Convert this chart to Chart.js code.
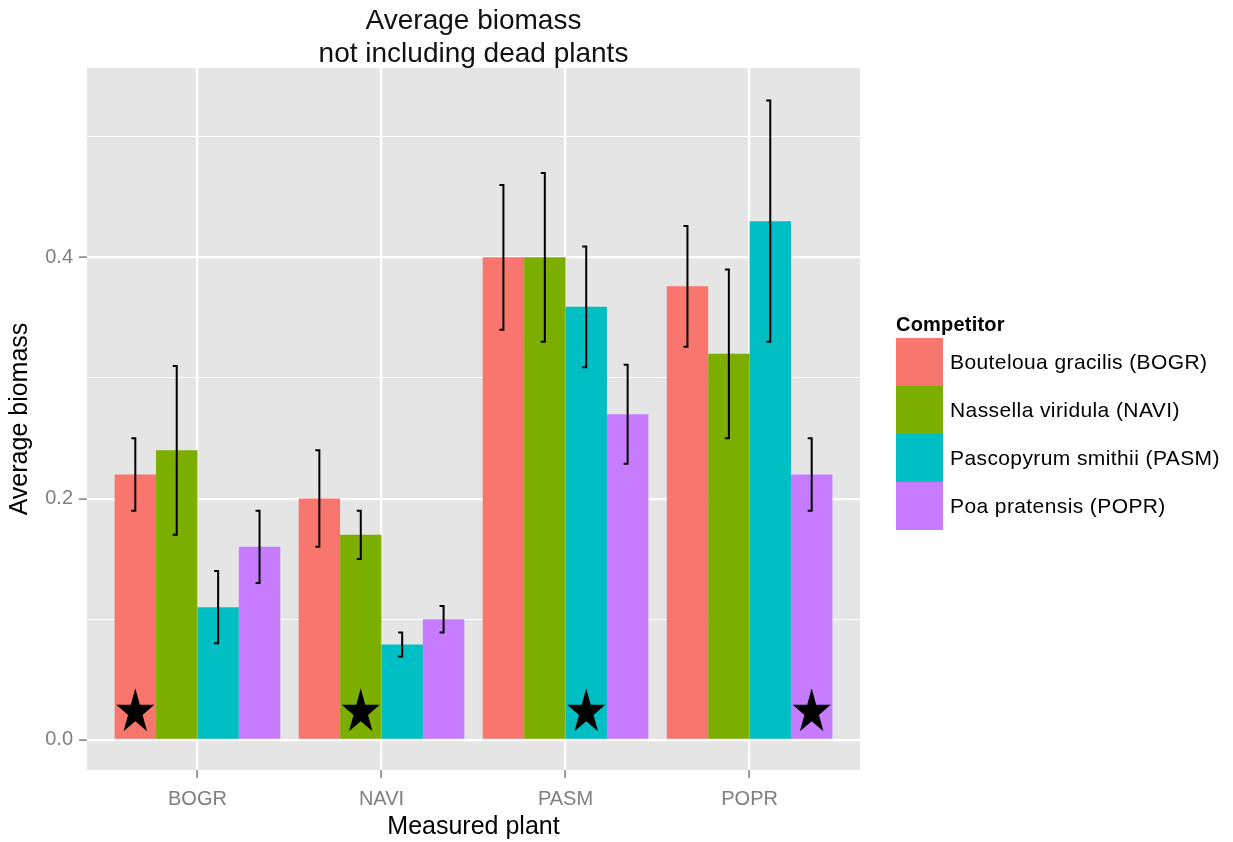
<!DOCTYPE html>
<html>
<head>
<meta charset="utf-8">
<title>Average biomass</title>
<script src="https://cdn.jsdelivr.net/npm/chart.js@4.4.1/dist/chart.umd.min.js"></script>
<style>
  html, body { margin: 0; padding: 0; background: #ffffff; }
  #wrap { position: relative; width: 1233px; height: 842px; }
  #chart { position: absolute; left: 0; top: 0; }
  #legend {
    position: absolute; left: 896px; top: 312px;
    font-family: "Liberation Sans", Arial, sans-serif; color: #000;
  }
  #legend .ttl { font-size: 20px; font-weight: bold; line-height: 24px; height: 26px; letter-spacing: 0.2px; }
  #legend .row { display: flex; align-items: center; height: 48px; }
  #legend .key { width: 47px; height: 48px; flex: none; }
  #legend .lab { font-size: 21px; line-height: 24px; margin-left: 7px; white-space: nowrap; letter-spacing: 0.4px; }
</style>
</head>
<body>
<div id="wrap">
  <canvas id="chart" width="1233" height="842"></canvas>
  <div id="legend"></div>
</div>
<script>
// Measured plants (x axis) and competitor species (series)
const measuredPlants = ['BOGR', 'NAVI', 'PASM', 'POPR'];
const competitors = [
  'Bouteloua gracilis (BOGR)',
  'Nassella viridula (NAVI)',
  'Pascopyrum smithii (PASM)',
  'Poa pratensis (POPR)'
];
const competitorColors = ['#F8766D', '#7CAE00', '#00BFC4', '#C77CFF'];

// Mean biomass per measured plant, one array per competitor
const meanBOGR = [0.22, 0.20, 0.40, 0.376];
const meanNAVI = [0.24, 0.17, 0.40, 0.32];
const meanPASM = [0.11, 0.079, 0.359, 0.43];
const meanPOPR = [0.16, 0.10, 0.27, 0.22];

// Standard errors (half length of each error bar)
const seBOGR = [0.03, 0.04, 0.06, 0.05];
const seNAVI = [0.07, 0.02, 0.07, 0.07];
const sePASM = [0.03, 0.01, 0.05, 0.10];
const sePOPR = [0.03, 0.011, 0.041, 0.03];

// Star marks the bar where the competitor is the measured plant itself
const starCompetitor = [0, 1, 2, 3];
const starLevel = 0.023;

const yTickValues = [0, 0.1, 0.2, 0.3, 0.4, 0.5];
const yTickLabels = ['0.0', '', '0.2', '', '0.4', ''];

const titleLines = ['Average biomass', 'not including dead plants'];

const FONT = '"Liberation Sans", Arial, sans-serif';
const means = [meanBOGR, meanNAVI, meanPASM, meanPOPR];
const errors = [seBOGR, seNAVI, sePASM, sePOPR];

const datasets = competitors.map((name, s) => ({
  label: name,
  data: means[s].map((v, i) => ({ x: i + 1, y: v })),
  errors: errors[s],
  backgroundColor: competitorColors[s],
  borderWidth: 0,
  categoryPercentage: 0.9,
  barPercentage: 1.0
}));

// grey panel behind the grid
const panelBackground = {
  id: 'panelBackground',
  beforeDraw(chart) {
    const { ctx, chartArea: a } = chart;
    ctx.save();
    ctx.fillStyle = '#E5E5E5';
    ctx.fillRect(a.left, a.top, a.right - a.left, a.bottom - a.top);
    ctx.restore();
  }
};

// error bars and stars on top of the bars
const barDecorations = {
  id: 'barDecorations',
  afterDatasetsDraw(chart) {
    const ctx = chart.ctx;
    const yScale = chart.scales.y;
    ctx.save();
    ctx.strokeStyle = '#000';
    ctx.lineWidth = 2;
    chart.data.datasets.forEach((ds, di) => {
      const meta = chart.getDatasetMeta(di);
      meta.data.forEach((bar, i) => {
        const m = ds.data[i].y, e = ds.errors[i];
        const x = bar.x;
        const yt = yScale.getPixelForValue(m + e);
        const yb = yScale.getPixelForValue(m - e);
        ctx.beginPath();
        ctx.moveTo(x, yt); ctx.lineTo(x, yb);
        ctx.moveTo(x - 4, yt); ctx.lineTo(x + 1, yt);
        ctx.moveTo(x - 4, yb); ctx.lineTo(x + 1, yb);
        ctx.stroke();
      });
    });
    // filled five-pointed stars, a little taller than wide
    ctx.fillStyle = '#000';
    starCompetitor.forEach((s, i) => {
      const bar = chart.getDatasetMeta(s).data[i];
      const cx = bar.x, cy = yScale.getPixelForValue(starLevel);
      const R = 20, r = R * 0.382, sy = 1.19;
      ctx.beginPath();
      for (let k = 0; k < 10; k++) {
        const rad = k % 2 === 0 ? R : r;
        const ang = -Math.PI / 2 + k * Math.PI / 5;
        const px = cx + rad * Math.cos(ang), py = cy + rad * Math.sin(ang) * sy;
        if (k === 0) ctx.moveTo(px, py); else ctx.lineTo(px, py);
      }
      ctx.closePath();
      ctx.fill();
    });
    ctx.restore();
  }
};

// two-line title centred over the panel
const panelTitle = {
  id: 'panelTitle',
  afterDraw(chart) {
    const { ctx, chartArea: a } = chart;
    const cx = (a.left + a.right) / 2;
    ctx.save();
    ctx.font = '28px ' + FONT;
    ctx.fillStyle = '#111';
    ctx.textAlign = 'center';
    ctx.textBaseline = 'alphabetic';
    titleLines.forEach((t, i) => ctx.fillText(t, cx, 28.5 + i * 33));
    ctx.restore();
  }
};

const chart = new Chart(document.getElementById('chart'), {
  type: 'bar',
  data: { datasets },
  plugins: [panelBackground, barDecorations, panelTitle],
  options: {
    responsive: false,
    animation: false,
    devicePixelRatio: 1,
    layout: { padding: { top: 68, right: 373, bottom: 0, left: 0 } },
    plugins: {
      legend: { display: false },
      title: { display: false },
      tooltip: { enabled: false }
    },
    scales: {
      x: {
        type: 'linear',
        min: 0.4,
        max: 4.6,
        offset: false,
        afterBuildTicks: s => { s.ticks = measuredPlants.map((_, i) => ({ value: i + 1 })); },
        afterFit: s => { s.height = 72; },
        ticks: {
          callback: (v, i) => measuredPlants[i],
          autoSkip: false,
          maxRotation: 0,
          padding: 9,
          color: '#7F7F7F',
          font: { family: FONT, size: 20 }
        },
        grid: {
          offset: false,
          color: '#FFFFFF',
          lineWidth: 2.2,
          tickColor: '#7F7F7F',
          tickLength: 8,
          tickWidth: 1.5
        },
        border: { display: false },
        title: {
          display: true,
          text: 'Measured plant',
          color: '#000',
          font: { family: FONT, size: 25 },
          padding: { top: 0, bottom: 0 }
        }
      },
      y: {
        min: -0.025,
        max: 0.557,
        afterBuildTicks: s => { s.ticks = yTickValues.map(v => ({ value: v })); },
        afterFit: s => { s.width = 87; },
        ticks: {
          callback: (v, i) => yTickLabels[i],
          autoSkip: false,
          padding: 6,
          color: '#7F7F7F',
          font: { family: FONT, size: 20 }
        },
        grid: {
          color: '#FFFFFF',
          lineWidth: c => (yTickLabels[c.index] ? 2.2 : 1.1),
          tickColor: c => (yTickLabels[c.index] ? '#7F7F7F' : 'rgba(0,0,0,0)'),
          tickLength: 8,
          tickWidth: 1.5
        },
        border: { display: false },
        title: {
          display: true,
          text: 'Average biomass',
          color: '#000',
          font: { family: FONT, size: 25 },
          padding: { top: 5, bottom: 0 }
        }
      }
    }
  }
});

// legend built from the chart's datasets
const legend = document.getElementById('legend');
const ttl = document.createElement('div');
ttl.className = 'ttl';
ttl.textContent = 'Competitor';
legend.appendChild(ttl);
chart.data.datasets.forEach(ds => {
  const row = document.createElement('div');
  row.className = 'row';
  const key = document.createElement('div');
  key.className = 'key';
  key.style.background = ds.backgroundColor;
  const lab = document.createElement('div');
  lab.className = 'lab';
  lab.textContent = ds.label;
  row.appendChild(key);
  row.appendChild(lab);
  legend.appendChild(row);
});
</script>
</body>
</html>
